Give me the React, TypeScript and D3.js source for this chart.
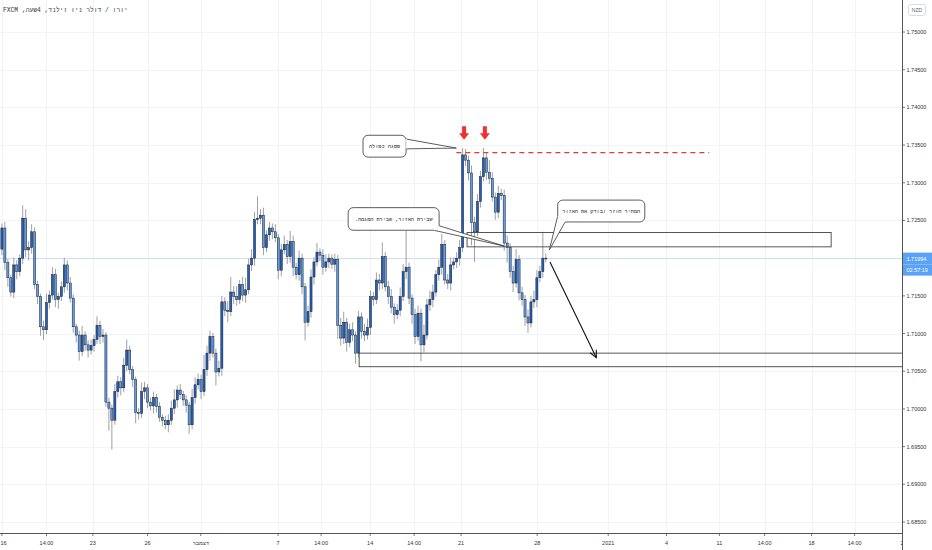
import * as d3 from "d3";

// EUR/NZD 4H candles, open = previous close
const firstOpen = 1.7212;
const closes = [
  1.724, 1.7194, 1.7174, 1.7155, 1.7191, 1.7182, 1.72, 1.7253, 1.7211, 1.7214,
  1.7235, 1.7165, 1.7149, 1.7109, 1.7105, 1.7141, 1.7151, 1.7178, 1.7145, 1.7149,
  1.7162, 1.7191, 1.7167, 1.7147, 1.7109, 1.7098, 1.7076, 1.7098, 1.7085, 1.7078,
  1.7084, 1.7092, 1.7111, 1.7096, 1.7098, 1.7009, 1.7001, 1.6985, 1.7023, 1.7036,
  1.7028, 1.7058, 1.7078, 1.7052, 1.7039, 1.6995, 1.6994, 1.7023, 1.7028, 1.7009,
  1.7004, 1.7015, 1.7003, 1.6989, 1.6985, 1.6979, 1.6985, 1.7001, 1.7012, 1.7025,
  1.7019, 1.7012, 1.7005, 1.6979, 1.7015, 1.7032, 1.7039, 1.7023, 1.7052, 1.7074,
  1.7096, 1.7074, 1.7049, 1.7054, 1.7142, 1.7131, 1.7129, 1.7155, 1.7149, 1.7145,
  1.7165, 1.7151, 1.7158, 1.7191, 1.72, 1.7251, 1.7253, 1.7257, 1.7214, 1.7231,
  1.724, 1.7235, 1.7227, 1.7184, 1.7211, 1.7218, 1.7202, 1.7222, 1.7188, 1.7178,
  1.72, 1.7162, 1.7115, 1.7129, 1.7175, 1.7195, 1.7208, 1.7204, 1.7188, 1.7195,
  1.72, 1.7192, 1.7198, 1.7111, 1.7094, 1.7115, 1.7088, 1.7105, 1.7098, 1.7074,
  1.7122, 1.7103, 1.7098, 1.7108, 1.7149, 1.7145, 1.7171, 1.7167, 1.7202, 1.7162,
  1.7149, 1.7135, 1.7125, 1.7131, 1.7149, 1.7182, 1.7188, 1.7147, 1.7125, 1.7096,
  1.7127, 1.7085, 1.7098, 1.7138, 1.7145, 1.7155, 1.7178, 1.7188, 1.7218, 1.7171,
  1.7167, 1.7191, 1.7195, 1.72, 1.7214, 1.7337, 1.733, 1.7313, 1.7247, 1.7235,
  1.7275, 1.7308, 1.7333, 1.7314, 1.7306, 1.7281, 1.7261, 1.7286, 1.7283, 1.722,
  1.7214, 1.7182, 1.7167, 1.7198, 1.7154, 1.7145, 1.7122, 1.7114, 1.7142, 1.7145,
  1.7174, 1.7182, 1.72, 1.71994,
];
// wick lengths in pips beyond the body
const upWick = [
  6, 8, 5, 4, 10, 6, 5, 17, 12, 8,
  10, 6, 5, 4, 8, 12, 6, 10, 8, 5,
  7, 9, 6, 8, 5, 4, 6, 12, 5, 6,
  8, 6, 12, 6, 8, 4, 6, 5, 10, 8,
  6, 10, 14, 6, 5, 4, 6, 12, 8, 5,
  6, 8, 5, 6, 4, 6, 8, 10, 14, 6,
  8, 5, 6, 4, 12, 10, 8, 6, 20, 10,
  8, 5, 6, 10, 8, 6, 12, 20, 8, 14,
  6, 10, 16, 8, 12, 10, 29, 8, 10, 6,
  8, 6, 10, 5, 8, 12, 6, 14, 8, 6,
  10, 6, 5, 8, 10, 6, 12, 5, 8, 10,
  6, 5, 8, 6, 10, 14, 6, 8, 10, 5,
  8, 6, 10, 12, 8, 6, 10, 8, 19, 6,
  8, 10, 5, 8, 12, 10, 48, 6, 5, 8,
  10, 6, 14, 8, 12, 10, 6, 10, 14, 6,
  8, 10, 6, 8, 10, 9, 8, 6, 10, 8,
  10, 8, 13, 6, 16, 8, 6, 10, 6, 8,
  10, 6, 8, 14, 6, 8, 6, 10, 8, 12,
  10, 8, 35, 6,
];
const downWick = [
  8, 10, 12, 6, 8, 10, 6, 8, 10, 14,
  8, 6, 10, 12, 14, 6, 8, 6, 10, 12,
  6, 8, 10, 6, 8, 10, 12, 6, 8, 10,
  6, 8, 6, 10, 8, 6, 30, 39, 6, 8,
  10, 6, 8, 6, 10, 14, 8, 6, 10, 8,
  6, 10, 8, 6, 8, 6, 10, 6, 8, 10,
  6, 8, 10, 12, 6, 8, 6, 10, 6, 8,
  10, 6, 18, 6, 10, 8, 14, 6, 10, 8,
  6, 8, 10, 6, 8, 10, 6, 8, 10, 6,
  8, 10, 6, 12, 8, 6, 10, 8, 12, 6,
  8, 10, 24, 6, 8, 10, 6, 8, 10, 6,
  8, 6, 10, 18, 10, 8, 12, 6, 8, 14,
  6, 10, 8, 6, 10, 8, 6, 10, 8, 6,
  10, 8, 12, 6, 8, 6, 10, 8, 12, 10,
  6, 22, 10, 6, 8, 10, 6, 8, 10, 6,
  8, 10, 6, 8, 10, 6, 8, 10, 30, 40,
  6, 8, 6, 10, 8, 6, 10, 8, 6, 10,
  20, 8, 12, 6, 10, 8, 12, 13, 6, 8,
  10, 6, 8, 5,
];

const priceTicks = [1.685, 1.69, 1.695, 1.7, 1.705, 1.71, 1.715, 1.72, 1.725, 1.73, 1.735, 1.74, 1.745, 1.75];
const timeLabels = ["16", "14:00", "23", "26", "דצמבר", "7", "14:00", "14", "14:00", "21", "28", "2021", "4", "11", "14:00", "18", "14:00", "25"];
const timeIdx = [0, 15, 30.6, 49, 66.9, 92.9, 107.4, 123.9, 138.7, 154.5, 180.1, 204, 223.6, 241.4, 256.6, 272.4, 286.9, 303.4];

const lastPrice = 1.71994;
const countdown = "02:57:19";
const title = "יורו / דולר ניו זילנד, 4שעה, FXCM";

// drawings, in candle index / price
const zones = [
  { i0: 156.5, i1: 279, p0: 1.7234, p1: 1.7215 },
  { i0: 120.2, i1: 400, p0: 1.7074, p1: 1.7056 },
];
const doubleTop = { i0: 152.9, i1: 238, p: 1.734 };
const topMarks = [155.5, 162.5];
const moveArrow = { i0: 184.4, p0: 1.7195, i1: 200, p1: 1.7068 };
const callouts = [
  { text: "פסגה כפולה", i0: 121.5, i1: 136, p0: 1.7363, p1: 1.7334, tail: [[136, 1.7358], [136, 1.7345], [152.9, 1.7346]] },
  { text: "שבירת האזור, שבירת המגמה.", i0: 116.5, i1: 147.1, p0: 1.7267, p1: 1.7237, tail: [[147.1, 1.7243], [145.3, 1.7237], [169, 1.7216]] },
  { text: "המחיר חוזר ובודק את האזור", i0: 187, i1: 216.3, p0: 1.7277, p1: 1.7248, tail: [[187, 1.7256], [189.5, 1.7248], [184.2, 1.7211]] },
];

const W = 932;
const H = 550;
const axisX = 902;
const axisY = 533;
const font = "'Liberation Sans', Arial, sans-serif";
const mono = "'Liberation Mono', 'DejaVu Sans Mono', monospace";

export default function App() {
  const x = d3.scaleLinear().domain([0, 180]).range([1.9, 536.9]);
  const y = d3.scaleLinear().domain([1.685, 1.75]).range([522, 32]);
  const pip = 0.0001;
  const bw = 2.1;

  const candles = closes.map((c, i) => {
    const o = i === 0 ? firstOpen : closes[i - 1];
    const hi = Math.max(o, c) + upWick[i] * pip;
    const lo = Math.min(o, c) - downWick[i] * pip;
    return { i, o, c, hi, lo, up: c >= o };
  });

  const curY = y(lastPrice);
  const visibleTicks = priceTicks.filter((p) => Math.abs(y(p) - curY) > 10);

  return (
    <div>
      <style>{`body{margin:0;background:#fff}`}</style>
      <svg width={W} height={H} style={{ display: "block", fontFamily: font }}>
        <defs>
          <clipPath id="plot">
            <rect x={0} y={0} width={axisX} height={axisY} />
          </clipPath>
        </defs>
        <rect width={W} height={H} fill="#fff" />

        {/* grid */}
        <g stroke="#f1f3f7" strokeWidth={1}>
          {priceTicks.map((p) => (
            <line key={p} x1={0} x2={axisX} y1={Math.round(y(p)) + 0.5} y2={Math.round(y(p)) + 0.5} />
          ))}
          {timeIdx.map((t, k) => (
            <line key={k} x1={Math.round(x(t)) + 0.5} x2={Math.round(x(t)) + 0.5} y1={0} y2={axisY} />
          ))}
        </g>

        <g clipPath="url(#plot)">
          {/* current price line */}
          <line x1={0} x2={axisX} y1={curY} y2={curY} stroke="#c9defa" strokeWidth={1} />

          {/* candles */}
          {candles.map((d) => (
            <line key={"w" + d.i} x1={x(d.i)} x2={x(d.i)} y1={y(d.hi)} y2={y(d.lo)} stroke="#777" strokeWidth={0.7} />
          ))}
          {candles.map((d) => {
            const top = y(Math.max(d.o, d.c));
            const h = Math.max(0.8, y(Math.min(d.o, d.c)) - top);
            return (
              <rect
                key={"b" + d.i}
                x={x(d.i) - bw / 2}
                y={top}
                width={bw}
                height={h}
                fill={d.up ? "#1f5fc2" : "#5e9ded"}
                stroke="#1c1c1c"
                strokeWidth={0.5}
              />
            );
          })}

          {/* zones */}
          {zones.map((z, k) => (
            <rect
              key={k}
              x={x(z.i0)}
              y={y(z.p0)}
              width={x(z.i1) - x(z.i0)}
              height={y(z.p1) - y(z.p0)}
              fill="none"
              stroke="#444"
              strokeWidth={0.9}
            />
          ))}

          {/* double top line */}
          <line
            x1={x(doubleTop.i0)}
            x2={x(doubleTop.i1)}
            y1={y(doubleTop.p)}
            y2={y(doubleTop.p)}
            stroke="#e53935"
            strokeWidth={1.3}
            strokeDasharray="5,4"
          />

          {/* red markers */}
          {topMarks.map((t, k) => {
            const cx = x(t);
            const y0 = y(1.7375);
            const y1 = y(1.7357);
            return (
              <path
                key={k}
                d={`M${cx - 2},${y0} L${cx + 2},${y0} L${cx + 2},${y0 + 7} L${cx + 5},${y0 + 7} L${cx},${y1} L${cx - 5},${y0 + 7} L${cx - 2},${y0 + 7} Z`}
                fill="#f23030"
              />
            );
          })}

          {/* move arrow */}
          {(() => {
            const x0 = x(moveArrow.i0);
            const y0 = y(moveArrow.p0);
            const x1 = x(moveArrow.i1);
            const y1 = y(moveArrow.p1);
            const a = Math.atan2(y1 - y0, x1 - x0);
            const L = 8;
            const s = 0.45;
            return (
              <g stroke="#111" strokeWidth={1.1} fill="none">
                <line x1={x0} y1={y0} x2={x1} y2={y1} />
                <path
                  d={`M${x1 - L * Math.cos(a - s)},${y1 - L * Math.sin(a - s)} L${x1},${y1} L${x1 - L * Math.cos(a + s)},${y1 - L * Math.sin(a + s)}`}
                />
              </g>
            );
          })()}

          {/* callouts */}
          {callouts.map((c, k) => {
            const bx = x(c.i0);
            const by = y(c.p0);
            const bwid = x(c.i1) - x(c.i0);
            const bh = y(c.p1) - y(c.p0);
            const pts = c.tail.map(([i, p]) => `${x(i)},${y(p)}`).join(" ");
            return (
              <g key={k}>
                <rect x={bx} y={by} width={bwid} height={bh} rx={5} fill="#fff" stroke="#333" strokeWidth={0.8} />
                <polygon points={pts} fill="#fff" stroke="#333" strokeWidth={0.8} strokeLinejoin="round" />
                <line
                  x1={x(c.tail[0][0])}
                  y1={y(c.tail[0][1])}
                  x2={x(c.tail[1][0])}
                  y2={y(c.tail[1][1])}
                  stroke="#fff"
                  strokeWidth={1.4}
                />
                <text
                  x={bx + bwid / 2}
                  y={by + bh / 2 + 2}
                  fontSize={5.2}
                  fontFamily={mono}
                  textAnchor="middle"
                  direction="rtl"
                  fill="#222"
                >
                  {c.text}
                </text>
              </g>
            );
          })}
        </g>

        {/* title */}
        <text x={3} y={12} fontSize={6.3} fontFamily={mono} fill="#333" direction="rtl" textAnchor="end">
          {title}
        </text>

        {/* time axis */}
        <line x1={0} x2={axisX} y1={axisY + 0.5} y2={axisY + 0.5} stroke="#555" strokeWidth={1} />
        {timeIdx.map((t, k) => (
          <g key={k}>
            <line x1={x(t)} x2={x(t)} y1={axisY} y2={axisY + 3} stroke="#555" strokeWidth={0.8} />
            <text
              x={k === 0 ? 0.5 : x(t)}
              y={axisY + 11.5}
              fontSize={5.5}
              textAnchor={k === 0 ? "start" : "middle"}
              fill="#333"
            >
              {timeLabels[k]}
            </text>
          </g>
        ))}

        {/* price axis */}
        <rect x={axisX} y={0} width={W - axisX} height={H} fill="#fff" />
        <line x1={axisX + 0.5} x2={axisX + 0.5} y1={0} y2={H} stroke="#555" strokeWidth={1} />
        {visibleTicks.map((p) => (
          <g key={p}>
            <line x1={axisX} x2={axisX + 3} y1={y(p)} y2={y(p)} stroke="#555" strokeWidth={0.8} />
            <text x={axisX + 4.5} y={y(p) + 2} fontSize={5.5} fill="#333">
              {p.toFixed(5)}
            </text>
          </g>
        ))}
        <rect x={axisX + 1} y={curY - 6} width={W - axisX - 1} height={12} fill="#5aa2f4" />
        <text x={axisX + 4.5} y={curY + 2} fontSize={5.5} fill="#fff">
          {lastPrice.toFixed(5)}
        </text>
        <rect x={axisX + 1} y={curY + 6} width={W - axisX - 1} height={11} fill="#5aa2f4" />
        <text x={axisX + 4.5} y={curY + 13.5} fontSize={5.5} fill="#fff">
          {countdown}
        </text>

        {/* currency button */}
        <rect x={908.5} y={4.5} width={17} height={11} rx={2.5} fill="#fff" stroke="#d0d3da" strokeWidth={0.8} />
        <text x={917} y={11.8} fontSize={5} textAnchor="middle" fill="#666">
          NZD
        </text>
      </svg>
    </div>
  );
}
